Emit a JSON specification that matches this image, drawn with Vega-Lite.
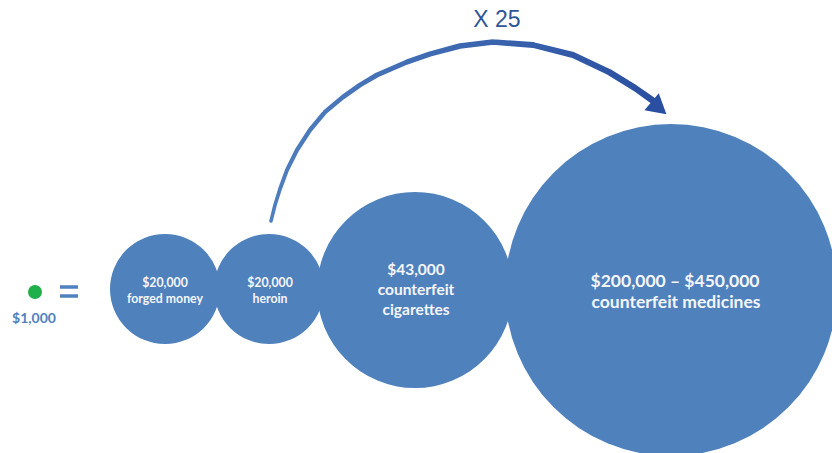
{
  "$schema": "https://vega.github.io/schema/vega-lite/v6.json",
  "width": 832,
  "height": 453,
  "padding": 0,
  "autosize": {"type": "none"},
  "background": "#ffffff",
  "config": {"view": {"stroke": null}, "axis": {"disable": true}},
  "datasets": {
    "bubbles": [
      {"item": "forged money", "value": 20, "x": 165, "y": 289},
      {"item": "heroin", "value": 20, "x": 269, "y": 289},
      {"item": "counterfeit cigarettes", "value": 43, "x": 415, "y": 290},
      {"item": "counterfeit medicines", "value": 325, "x": 671, "y": 290}
    ],
    "arc": [
      {"t": 0, "x": 271, "y": 221},
      {"t": 1, "x": 275, "y": 205},
      {"t": 2, "x": 280, "y": 189},
      {"t": 3, "x": 287, "y": 170},
      {"t": 4, "x": 297, "y": 150},
      {"t": 5, "x": 310, "y": 130},
      {"t": 6, "x": 325, "y": 112},
      {"t": 7, "x": 343, "y": 97},
      {"t": 8, "x": 360, "y": 85},
      {"t": 9, "x": 377, "y": 75},
      {"t": 10, "x": 407, "y": 62},
      {"t": 11, "x": 430, "y": 54},
      {"t": 12, "x": 460, "y": 46},
      {"t": 13, "x": 493, "y": 42},
      {"t": 14, "x": 533, "y": 45},
      {"t": 15, "x": 573, "y": 55},
      {"t": 16, "x": 609, "y": 72},
      {"t": 17, "x": 635, "y": 88},
      {"t": 18, "x": 652, "y": 100}
    ],
    "head": [{"x": 659, "y": 108}],
    "unit": [{"x": 35, "y": 292}],
    "equals": [
      {"x": 60, "x2": 78, "y": 287},
      {"x": 60, "x2": 78, "y": 296}
    ],
    "labels": [
      {"text": "$20,000", "x": 165, "y": 283, "grp": "s"},
      {"text": "forged money", "x": 165, "y": 299, "grp": "s"},
      {"text": "$20,000", "x": 270, "y": 283, "grp": "s"},
      {"text": "heroin", "x": 270, "y": 299, "grp": "s"},
      {"text": "$43,000", "x": 416, "y": 270, "grp": "m"},
      {"text": "counterfeit", "x": 416, "y": 290, "grp": "m"},
      {"text": "cigarettes", "x": 416, "y": 310, "grp": "m"},
      {"text": "$200,000 – $450,000", "x": 675, "y": 282, "grp": "l"},
      {"text": "counterfeit medicines", "x": 676, "y": 303, "grp": "l"}
    ],
    "notes": [
      {"text": "$1,000", "x": 34, "y": 319, "grp": "unit"},
      {"text": "X 25", "x": 497, "y": 20, "grp": "mult"}
    ]
  },
  "encoding": {
    "x": {"field": "x", "type": "quantitative", "scale": {"domain": [0, 832], "nice": false, "zero": false}, "axis": null},
    "y": {"field": "y", "type": "quantitative", "scale": {"domain": [0, 453], "nice": false, "zero": false, "reverse": true}, "axis": null}
  },
  "layer": [
    {
      "data": {"name": "bubbles"},
      "mark": {"type": "point", "shape": "circle", "filled": true, "opacity": 1, "color": "#4f81bd", "strokeWidth": 0},
      "encoding": {
        "size": {"field": "value", "type": "quantitative", "legend": null,
          "scale": {"domain": [20, 43, 325], "range": [12100, 38400, 110200]}}
      }
    },
    {
      "data": {"name": "arc"},
      "mark": {"type": "trail", "color": {"gradient": "linear", "x1": 0, "y1": 0, "x2": 1, "y2": 0, "stops": [{"offset": 0, "color": "#4f7fbf"}, {"offset": 1, "color": "#2a4fa0"}]}},
      "encoding": {
        "order": {"field": "t", "type": "quantitative"},
        "size": {"field": "t", "type": "quantitative", "legend": null, "scale": {"domain": [0, 18], "range": [3.5, 6.5]}}
      }
    },
    {
      "data": {"name": "head"},
      "mark": {"type": "point", "shape": "triangle-right", "filled": true, "opacity": 1, "size": 500, "angle": 40, "color": "#2a4fa0", "strokeWidth": 0},
      "encoding": {}
    },
    {
      "data": {"name": "unit"},
      "mark": {"type": "point", "shape": "circle", "filled": true, "opacity": 1, "size": 196, "color": "#1fb04b", "strokeWidth": 0},
      "encoding": {}
    },
    {
      "data": {"name": "equals"},
      "mark": {"type": "rule", "color": "#4f81bd", "strokeWidth": 3.5},
      "encoding": {"x2": {"field": "x2"}}
    },
    {
      "data": {"name": "labels"},
      "transform": [{"filter": "datum.grp === 's'"}],
      "mark": {"type": "text", "font": "Lato", "fontWeight": "bold", "fontSize": 12.3, "color": "#f4f6fa", "align": "center", "baseline": "middle"},
      "encoding": {"text": {"field": "text"}}
    },
    {
      "data": {"name": "labels"},
      "transform": [{"filter": "datum.grp === 'm'"}],
      "mark": {"type": "text", "font": "Lato", "fontWeight": "bold", "fontSize": 15.5, "color": "#f4f6fa", "align": "center", "baseline": "middle"},
      "encoding": {"text": {"field": "text"}}
    },
    {
      "data": {"name": "labels"},
      "transform": [{"filter": "datum.grp === 'l'"}],
      "mark": {"type": "text", "font": "Lato", "fontWeight": "bold", "fontSize": 17.5, "color": "#f4f6fa", "align": "center", "baseline": "middle"},
      "encoding": {"text": {"field": "text"}}
    },
    {
      "data": {"name": "notes"},
      "transform": [{"filter": "datum.grp === 'unit'"}],
      "mark": {"type": "text", "font": "Lato", "fontWeight": "bold", "fontSize": 14, "color": "#4f81bd", "align": "center", "baseline": "middle"},
      "encoding": {"text": {"field": "text"}}
    },
    {
      "data": {"name": "notes"},
      "transform": [{"filter": "datum.grp === 'mult'"}],
      "mark": {"type": "text", "font": "Liberation Sans", "fontSize": 23, "color": "#2e5597", "align": "center", "baseline": "middle"},
      "encoding": {"text": {"field": "text"}}
    }
  ],
  "resolve": {"scale": {"size": "independent"}}
}
